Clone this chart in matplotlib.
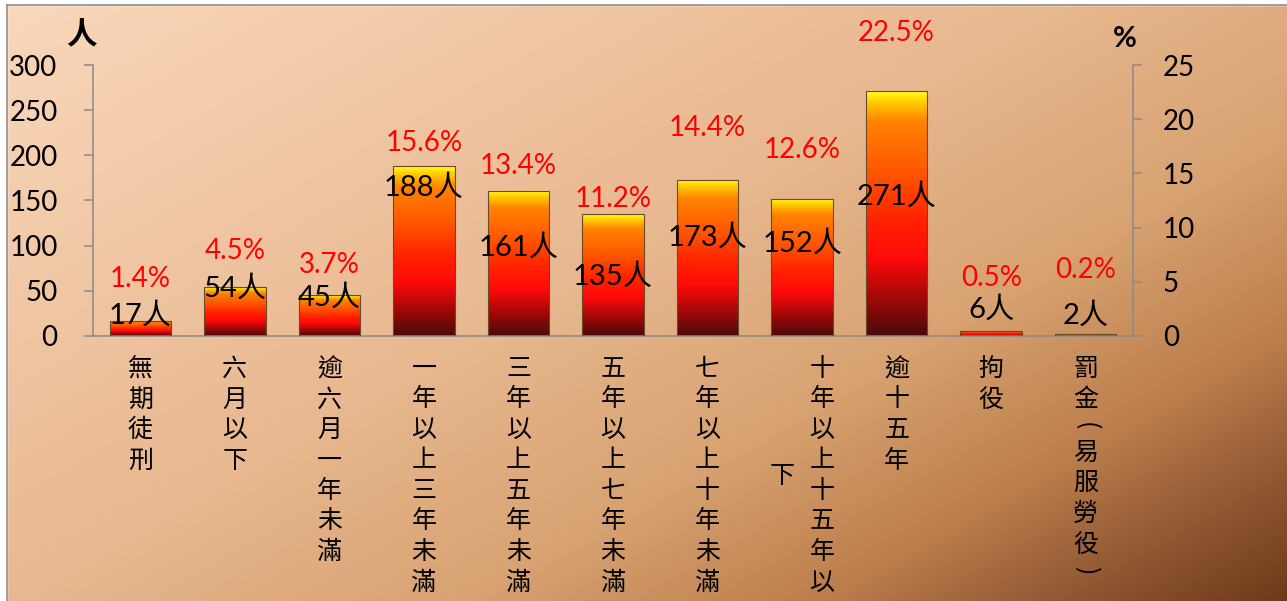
import numpy as np
import matplotlib
matplotlib.use('Agg')
import matplotlib.pyplot as plt
from matplotlib.colors import LinearSegmentedColormap
from matplotlib.patches import Rectangle

# data
categories = ['無期徒刑', '六月以下', '逾六月一年未滿', '一年以上三年未滿', '三年以上五年未滿',
              '五年以上七年未滿', '七年以上十年未滿', '十年以上十五年以下', '逾十五年', '拘役',
              '罰金(易服勞役)']
counts = [17, 54, 45, 188, 161, 135, 173, 152, 271, 6, 2]
pct_labels = ['1.4%', '4.5%', '3.7%', '15.6%', '13.4%', '11.2%', '14.4%', '12.6%', '22.5%', '0.5%', '0.2%']
# where the data labels sit (left-axis units)
count_label_y = [23, 53, 43, 164, 98, 66, 109, 102, 154, 29, 23]
pct_label_y = [63, 94, 79, 214, 188, 152, 230, 206, 335, 64, 73]

plt.rcParams['font.family'] = ['Lato', 'Noto Sans CJK TC', 'DejaVu Sans']
cjk = ['Noto Sans CJK TC', 'DejaVu Sans']

W, H = 1287, 601
fig = plt.figure(figsize=(W / 100, H / 100), dpi=100)
fig.patch.set_facecolor('white')

# background gradient
bg = fig.add_axes([0, 0, 1, 1])
bg.set_xlim(0, W)
bg.set_ylim(H, 0)
bg.axis('off')
yy, xx = np.mgrid[0:H, 0:W]
t = 0.55 * xx / W + 0.45 * yy / H
bgcmap = LinearSegmentedColormap.from_list('bg', [(0, '#FAD8BC'), (0.45, '#E8B890'), (0.65, '#D8A272'),
                                                  (0.8, '#BC7E4C'), (0.88, '#9A6038'), (1, '#6E3A1A')])
bg.imshow(t, cmap=bgcmap, extent=(0, W, H, 0), aspect='auto', origin='upper')
bg.add_patch(Rectangle((0, 0), 7, H, color='white', zorder=2))
bg.add_patch(Rectangle((0, 0), W, 5, color='white', zorder=2))
bg.plot([7, 7], [5, H], color='#8C8C8C', lw=1.2, zorder=3)
bg.plot([7, W], [5, 5], color='#8C8C8C', lw=1.2, zorder=3)

ax = fig.add_axes([93 / W, (H - 336) / H, (1133 - 93) / W, (336 - 65) / H])
ax.patch.set_alpha(0)

x = np.arange(len(categories))
width = 0.65
bars = ax.bar(x, counts, width=width, color='none', edgecolor='#6B4A2A', linewidth=0.8, zorder=3)

barcmap = LinearSegmentedColormap.from_list('bar', [(0, '#FFFF20'), (0.04, '#FFD000'), (0.12, '#FF8400'),
                                                    (0.35, '#FF5200'), (0.52, '#FF2400'), (0.68, '#FF0A0A'),
                                                    (0.85, '#A00808'), (1, '#4A0A0A')])
grad = np.linspace(0, 1, 256).reshape(-1, 1)
for b, h in zip(bars, counts):
    x0 = b.get_x()
    im = ax.imshow(grad, cmap=barcmap, extent=(x0, x0 + width, 0, h), aspect='auto',
                   origin='upper', zorder=2)
    im.set_clip_path(b)

ax.set_xlim(-0.5, len(categories) - 0.5)
ax.set_ylim(0, 300)
ax.set_yticks(range(0, 301, 50))
ax.set_xticks([])
for s in ['top', 'right']:
    ax.spines[s].set_visible(False)
for s in ['left', 'bottom']:
    ax.spines[s].set_color('#8A8A8A')
    ax.spines[s].set_linewidth(1.1)
ax.tick_params(axis='y', direction='out', length=6.5, width=1.1, color='#8A8A8A', pad=19, labelsize=20)

ax2 = ax.twinx()
ax2.set_ylim(0, 25)
ax2.set_yticks(range(0, 26, 5))
for s in ['top', 'left', 'bottom']:
    ax2.spines[s].set_visible(False)
ax2.spines['right'].set_color('#8A8A8A')
ax2.spines['right'].set_linewidth(1.1)
ax2.tick_params(axis='y', direction='out', length=6.5, width=1.1, color='#8A8A8A', pad=15, labelsize=20)

# data labels
for i in range(len(categories)):
    ax.text(x[i], count_label_y[i], f'{counts[i]}人', ha='center', va='center', fontsize=21,
            color='black', zorder=5)
    ax.text(x[i], pct_label_y[i], pct_labels[i], ha='center', va='center', fontsize=20,
            color='#FF0000', zorder=5)

# vertical category labels, 8 characters per column
row_h = 30.5
for i, name in enumerate(categories):
    cols = [name[k:k + 8] for k in range(0, len(name), 8)]
    ncol = len(cols)
    for j, col in enumerate(cols):
        dx = ((ncol - 1) / 2 - j) * 40
        r = (8 - len(col)) / 2 if j > 0 else 0
        for ch in col:
            paren = ch in '()'
            step = 0.75 if paren else 1
            yoff = -(33 + (r + step / 2 - 0.5) * row_h)
            ax.annotate(ch, xy=(x[i], 0), xycoords=('data', 'axes fraction'), xytext=(dx, yoff),
                        textcoords='offset pixels', ha='center', va='center', fontsize=18,
                        fontweight='medium', rotation=-90 if paren else 0, family=cjk,
                        annotation_clip=False)
            r += step

fig.text(81 / W, 1 - 35 / H, '人', fontsize=22, fontweight='bold', ha='center', va='center', family=cjk)
fig.text(1125 / W, 1 - 39 / H, '%', fontsize=21, fontweight='bold', ha='center', va='center')

fig.savefig('out.png', dpi=100)
